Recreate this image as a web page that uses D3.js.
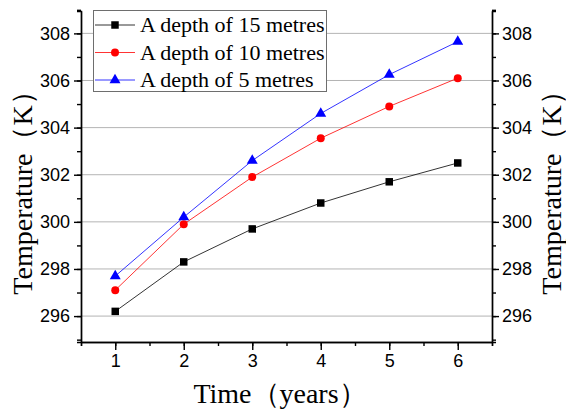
<!DOCTYPE html>
<html>
<head>
<meta charset="utf-8">
<script src="https://cdn.jsdelivr.net/npm/d3@7"></script>
<style>
  body { margin: 0; background: #fff; }
  svg { display: block; }
</style>
</head>
<body>
<svg width="566" height="410"></svg>
<script>
// data
var years = [1, 2, 3, 4, 5, 6];
var depth15 = [296.2, 298.3, 299.7, 300.8, 301.7, 302.5];
var depth10 = [297.1, 299.9, 301.9, 303.55, 304.9, 306.1];
var depth5 = [297.7, 300.2, 302.6, 304.6, 306.25, 307.65];
var seriesNames = ['A depth of 15 metres', 'A depth of 10 metres', 'A depth of 5 metres'];
var yTicks = [296, 298, 300, 302, 304, 306, 308];

var svg = d3.select('svg');
var plotLeft = 81, plotRight = 492, plotTop = 11, plotBottom = 342;

var x = d3.scaleLinear().domain([0.5, 6.5]).range([plotLeft, plotRight]);
var y = d3.scaleLinear().domain([294.9, 308.95]).range([plotBottom, plotTop]);

// grid lines
svg.append('g').selectAll('line')
    .data(yTicks)
    .enter().append('line')
    .attr('x1', plotLeft).attr('x2', plotRight)
    .attr('y1', function(d) { return y(d); })
    .attr('y2', function(d) { return y(d); })
    .attr('stroke', '#b4b4b4')
    .attr('stroke-width', 1);

function styleAxis(g) {
    g.selectAll('path').attr('stroke', '#000').attr('stroke-width', 1.4);
    g.selectAll('line').attr('stroke', '#000').attr('stroke-width', 1.4);
    g.selectAll('text').attr('font-family', 'Liberation Sans, Arial, sans-serif')
        .attr('font-size', 18).attr('fill', '#000');
}

var minorY = d3.range(295, 309.01, 1);
var minorX = d3.range(0.5, 6.51, 0.5);

// minor ticks
svg.append('g').attr('transform', 'translate(' + plotLeft + ',0)')
    .call(d3.axisLeft(y).tickValues(minorY).tickSize(4).tickFormat(''))
    .call(styleAxis);
svg.append('g').attr('transform', 'translate(' + plotRight + ',0)')
    .call(d3.axisRight(y).tickValues(minorY).tickSize(4).tickFormat(''))
    .call(styleAxis);
svg.append('g').attr('transform', 'translate(0,' + plotBottom + ')')
    .call(d3.axisBottom(x).tickValues(minorX).tickSize(4).tickFormat(''))
    .call(styleAxis);

// major ticks
svg.append('g').attr('transform', 'translate(' + plotLeft + ',0)')
    .call(d3.axisLeft(y).tickValues(yTicks).tickSize(7).tickSizeOuter(0).tickPadding(4).tickFormat(d3.format('d')))
    .call(styleAxis);
svg.append('g').attr('transform', 'translate(' + plotRight + ',0)')
    .call(d3.axisRight(y).tickValues(yTicks).tickSize(7).tickSizeOuter(0).tickPadding(3).tickFormat(d3.format('d')))
    .call(styleAxis);
svg.append('g').attr('transform', 'translate(0,' + plotBottom + ')')
    .call(d3.axisBottom(x).tickValues(years).tickSize(8).tickSizeOuter(0).tickPadding(4).tickFormat(d3.format('d')))
    .call(styleAxis);

// series
var series = [
    { name: seriesNames[0], values: depth15, color: '#000000', shape: d3.symbolSquare, size: 56 },
    { name: seriesNames[1], values: depth10, color: '#ff0000', shape: d3.symbolCircle, size: 50 },
    { name: seriesNames[2], values: depth5, color: '#0000ff', shape: d3.symbolTriangle, size: 52 }
];

var line = d3.line()
    .x(function(d, i) { return x(years[i]); })
    .y(function(d) { return y(d); });

series.forEach(function(s) {
    svg.append('path')
        .datum(s.values)
        .attr('d', line)
        .attr('fill', 'none')
        .attr('stroke', s.color)
        .attr('stroke-width', 0.8);

    svg.append('g').selectAll('path')
        .data(s.values)
        .enter().append('path')
        .attr('d', d3.symbol().type(s.shape).size(s.size))
        .attr('transform', function(d, i) {
            return 'translate(' + x(years[i]) + ',' + y(d) + ')';
        })
        .attr('fill', s.color);
});

// legend
var legend = svg.append('g');
legend.append('rect')
    .attr('x', 93.5).attr('y', 10.5)
    .attr('width', 233).attr('height', 81)
    .attr('fill', '#fff')
    .attr('stroke', '#6e6e6e')
    .attr('stroke-width', 1);

var legendItem = legend.selectAll('.item')
    .data(series)
    .enter().append('g')
    .attr('class', 'item')
    .attr('transform', function(d, i) {
        return 'translate(0,' + (25 + i * 27.5) + ')';
    });

legendItem.append('line')
    .attr('x1', 95).attr('x2', 135)
    .attr('stroke', function(d) { return d.color; })
    .attr('stroke-width', 0.8);
legendItem.append('path')
    .attr('d', function(d) { return d3.symbol().type(d.shape).size(d.size)(); })
    .attr('transform', 'translate(115,0)')
    .attr('fill', function(d) { return d.color; });
legendItem.append('text')
    .attr('x', 140).attr('y', 7)
    .attr('font-family', 'Liberation Serif, Times New Roman, serif')
    .attr('font-size', 22)
    .text(function(d) { return d.name; });

// axis titles
svg.append('text')
    .attr('transform', 'translate(32,186) rotate(-90)')
    .attr('text-anchor', 'middle')
    .attr('font-family', 'Liberation Serif, Times New Roman, serif')
    .attr('font-size', 28)
    .text('Temperature（K）');

svg.append('text')
    .attr('transform', 'translate(561,186) rotate(-90)')
    .attr('text-anchor', 'middle')
    .attr('font-family', 'Liberation Serif, Times New Roman, serif')
    .attr('font-size', 28)
    .text('Temperature（K）');

svg.append('text')
    .attr('x', 280)
    .attr('y', 403)
    .attr('text-anchor', 'middle')
    .attr('font-family', 'Liberation Serif, Times New Roman, serif')
    .attr('font-size', 28)
    .text('Time（years）');
</script>
</body>
</html>
